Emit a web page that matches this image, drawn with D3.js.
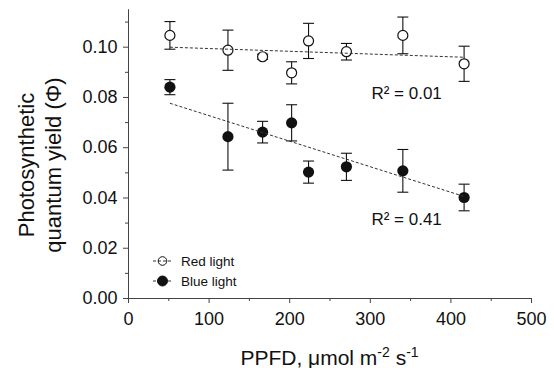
<!DOCTYPE html>
<html>
<head>
<meta charset="utf-8">
<script src="https://cdn.jsdelivr.net/npm/d3@7"></script>
<style>
  body { margin: 0; background: #fff; }
  text { font-family: Arial, "Liberation Sans", sans-serif; fill: #111; }
  .axis path, .axis line { stroke: #444; }
</style>
</head>
<body>
<div id="chart"></div>
<script>
// PPFD levels (umol m-2 s-1)
const ppfd = [52, 124, 167, 203, 224, 271, 341, 417];

// quantum yield, mean and standard error
const redMean = [0.1045, 0.0986, 0.0960, 0.0896, 0.1023, 0.0980, 0.1045, 0.0932];
const redErr  = [0.0055, 0.0080, 0.0010, 0.0044, 0.0070, 0.0033, 0.0073, 0.0070];
const blueMean = [0.0839, 0.0642, 0.0660, 0.0697, 0.0501, 0.0522, 0.0506, 0.0400];
const blueErr  = [0.0030, 0.0133, 0.0043, 0.0072, 0.0044, 0.0054, 0.0085, 0.0053];

// linear fits, end points
const redFit = [[52, 0.0998], [417, 0.0958]];
const blueFit = [[52, 0.0775], [417, 0.0404]];

// r squared labels
const r2Labels = [
  {text: "R\u00b2 = 0.01", x: 302, y: 0.0790},
  {text: "R\u00b2 = 0.41", x: 302, y: 0.0291}
];

const xTicks = [0, 100, 200, 300, 400, 500];
const xMinor = [50, 150, 250, 350, 450];
const yTicks = [0, 0.02, 0.04, 0.06, 0.08, 0.10];
const yMinor = [0.01, 0.03, 0.05, 0.07, 0.09, 0.11];

const legendItems = ["Red light", "Blue light"];

// size of the page
const width = 554, height = 368;
const margin = {top: 9, left: 128, right: 22, bottom: 70};
const innerW = width - margin.left - margin.right;   // 404
const innerH = height - margin.top - margin.bottom;  // 289

const svg = d3.select("#chart").append("svg")
    .attr("width", width)
    .attr("height", height);

const g = svg.append("g")
    .attr("transform", "translate(" + margin.left + "," + margin.top + ")");

// scales
const x = d3.scaleLinear().domain([0, 500]).range([0, 403]);
const y = d3.scaleLinear().domain([0, 0.115]).range([innerH, 0]);

// minor ticks first, no labels
g.append("g")
    .attr("class", "axis")
    .attr("transform", "translate(0," + innerH + ")")
    .call(d3.axisBottom(x).tickValues(xMinor).tickSize(3).tickSizeOuter(0).tickFormat(""));
g.append("g")
    .attr("class", "axis")
    .call(d3.axisLeft(y).tickValues(yMinor).tickSize(3).tickSizeOuter(0).tickFormat(""));

// x axis
const xAxis = g.append("g")
    .attr("class", "axis")
    .attr("transform", "translate(0," + innerH + ")")
    .call(d3.axisBottom(x).tickValues(xTicks).tickSize(5).tickSizeOuter(0).tickPadding(9));
xAxis.selectAll("text").style("font-size", "18px").attr("font-family", null);

// y axis
const yAxis = g.append("g")
    .attr("class", "axis")
    .call(d3.axisLeft(y).tickValues(yTicks).tickSize(5).tickSizeOuter(0).tickPadding(5.5)
        .tickFormat(d3.format(".2f")));
yAxis.selectAll("text").style("font-size", "18px").attr("font-family", null);

// axis titles
const xTitle = svg.append("text")
    .attr("x", margin.left + x(250))
    .attr("y", 365)
    .attr("text-anchor", "middle")
    .style("font-size", "21px");
xTitle.append("tspan").text("PPFD, \u03bcmol m");
xTitle.append("tspan").attr("dy", -8).style("font-size", "14px").text("-2");
xTitle.append("tspan").attr("dy", 8).text(" s");
xTitle.append("tspan").attr("dy", -8).style("font-size", "14px").text("-1");

svg.append("text")
    .attr("transform", "translate(34,165) rotate(-90)")
    .attr("text-anchor", "middle")
    .style("font-size", "22px")
    .text("Photosynthetic");
svg.append("text")
    .attr("transform", "translate(61,165) rotate(-90)")
    .attr("text-anchor", "middle")
    .style("font-size", "22px")
    .text("quantum yield (\u03a6)");

// build point tables
const redData = ppfd.map((p, i) => ({x: p, m: redMean[i], e: redErr[i]}));
const blueData = ppfd.map((p, i) => ({x: p, m: blueMean[i], e: blueErr[i]}));

const capW = 5.5;

function drawErrors(data) {
  const eb = g.append("g").attr("stroke", "#111").attr("stroke-width", 1.1);
  eb.selectAll("line.stem")
    .data(data)
    .enter().append("line")
      .attr("x1", d => x(d.x)).attr("x2", d => x(d.x))
      .attr("y1", d => y(d.m + d.e)).attr("y2", d => y(d.m - d.e));
  eb.selectAll("line.top")
    .data(data)
    .enter().append("line")
      .attr("x1", d => x(d.x) - capW).attr("x2", d => x(d.x) + capW)
      .attr("y1", d => y(d.m + d.e)).attr("y2", d => y(d.m + d.e));
  eb.selectAll("line.bot")
    .data(data)
    .enter().append("line")
      .attr("x1", d => x(d.x) - capW).attr("x2", d => x(d.x) + capW)
      .attr("y1", d => y(d.m - d.e)).attr("y2", d => y(d.m - d.e));
}

drawErrors(redData);
drawErrors(blueData);

// points
g.append("g").selectAll("circle")
  .data(redData)
  .enter().append("circle")
    .attr("cx", d => x(d.x))
    .attr("cy", d => y(d.m))
    .attr("r", 5)
    .style("fill", "white")
    .style("stroke", "#111")
    .style("stroke-width", 1.2);

g.append("g").selectAll("circle")
  .data(blueData)
  .enter().append("circle")
    .attr("cx", d => x(d.x))
    .attr("cy", d => y(d.m))
    .attr("r", 5.6)
    .style("fill", "#111");

// fit lines on top
const fitLine = d3.line().x(d => x(d[0])).y(d => y(d[1]));
[redFit, blueFit].forEach(f => {
  g.append("path")
    .attr("d", fitLine(f))
    .style("fill", "none")
    .style("stroke", "#333")
    .style("stroke-width", 1)
    .style("stroke-dasharray", "3,2");
});

// R2 labels
g.selectAll("text.r2")
  .data(r2Labels)
  .enter().append("text")
    .attr("x", d => x(d.x))
    .attr("y", d => y(d.y))
    .style("font-size", "17px")
    .text(d => d.text);

// legend
const legend = svg.append("g").attr("transform", "translate(153,261)");
legendItems.forEach((name, i) => {
  const row = legend.append("g").attr("transform", "translate(0," + (i * 20) + ")");
  row.append("line")
    .attr("x1", 0).attr("x2", 19)
    .attr("y1", 0).attr("y2", 0)
    .style("stroke", "#333")
    .style("stroke-dasharray", "3,2");
  row.append("circle")
    .attr("cx", 9.5).attr("cy", 0)
    .attr("r", i === 0 ? 4.3 : 5)
    .style("fill", i === 0 ? "none" : "#111")
    .style("stroke", "#111");
  row.append("text")
    .attr("x", 28).attr("y", 4.5)
    .style("font-size", "13.5px")
    .text(name);
});
</script>
</body>
</html>
